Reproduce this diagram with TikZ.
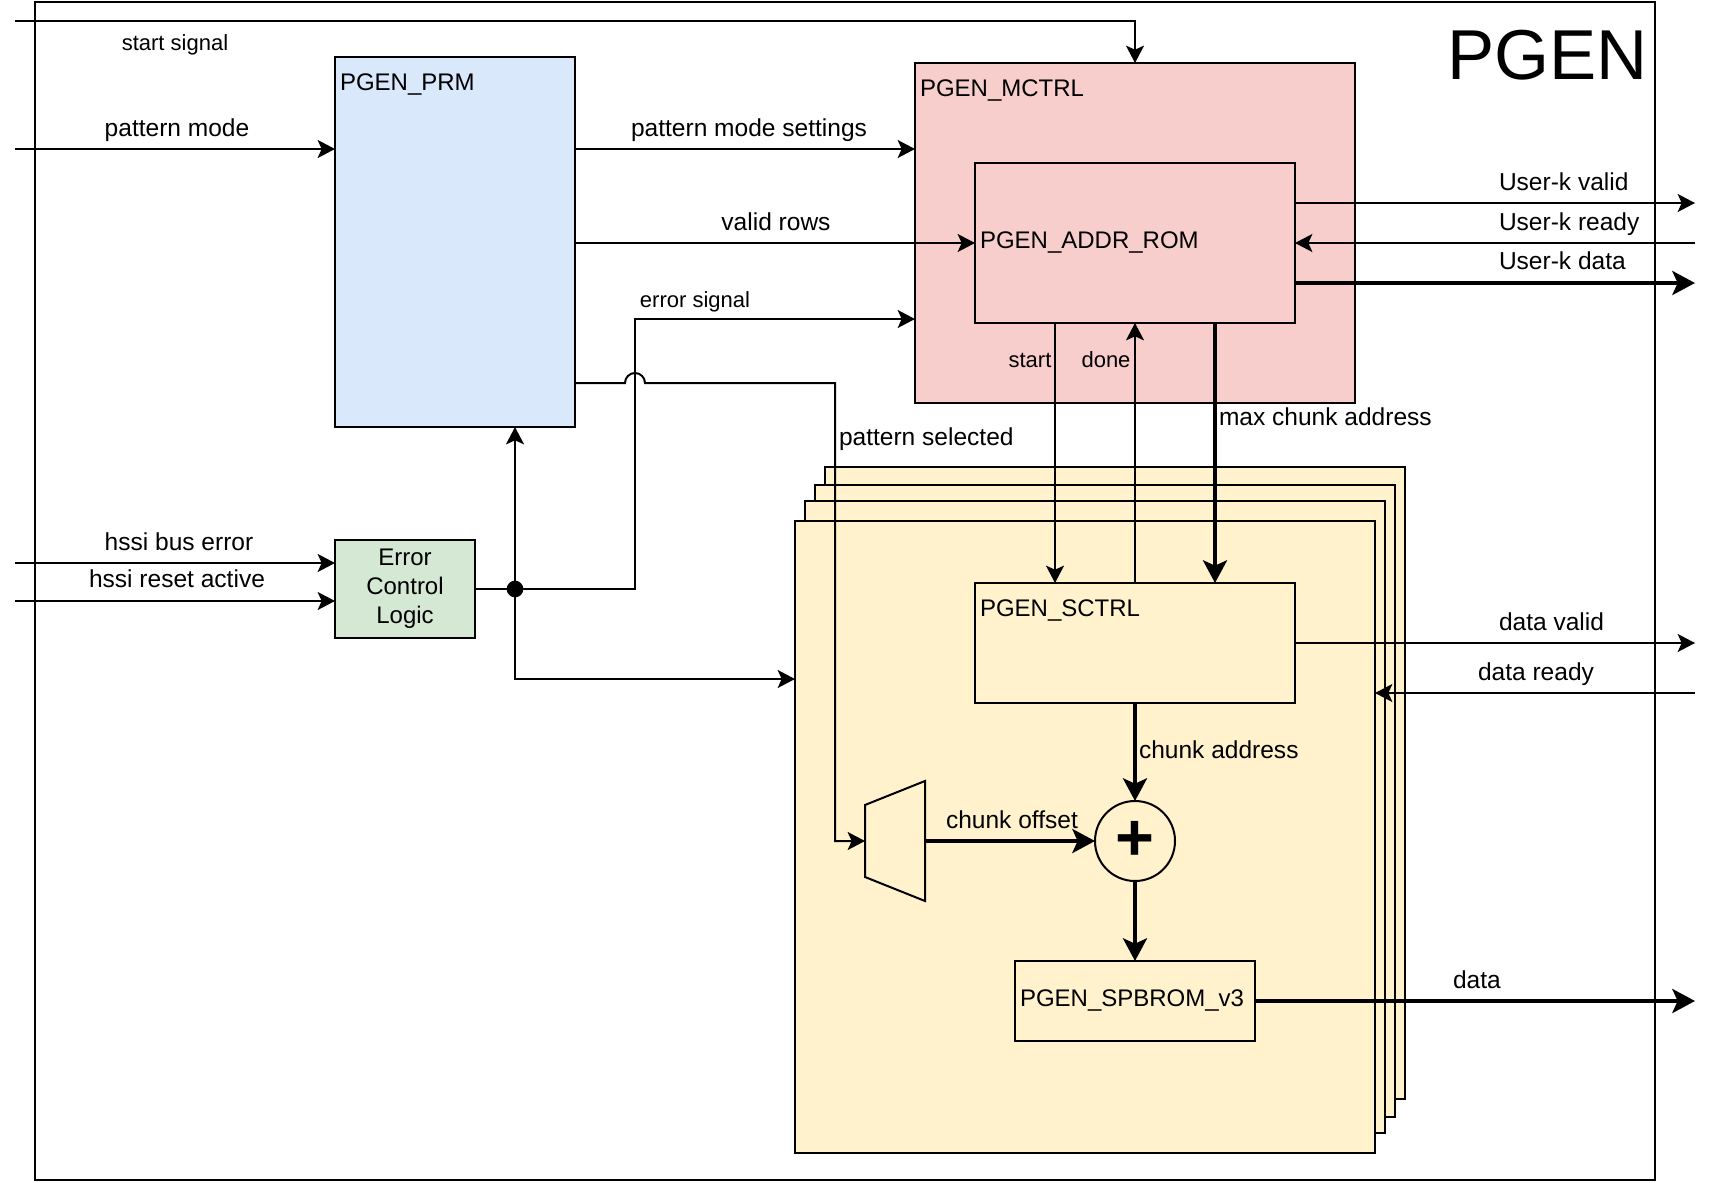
\documentclass[tikz,border=0pt]{standalone}
\usepackage{fontspec}
\setmainfont{Liberation Sans}
\usetikzlibrary{positioning, arrows.meta, shapes.geometric}

\begin{document}
\begin{tikzpicture}[
  x=0.75pt, y=-0.75pt,
  line width=1.5pt,
  box/.style={rectangle, draw, outer sep=0pt, inner sep=0pt, font=\fontsize{18}{21.7}\selectfont, align=center},
  prmbox/.style={box, fill=prmfill, minimum width=180pt, minimum height=277.5pt},
  ctrlbox/.style={box, fill=ctrlfill, minimum width=330pt, minimum height=255pt},
  rombox/.style={box, fill=ctrlfill, minimum width=240pt, minimum height=120pt},
  errbox/.style={box, fill=errfill, minimum width=105pt, minimum height=73.5pt},
  chanbox/.style={box, fill=chanfill, minimum width=435pt, minimum height=474pt},
  sctrlbox/.style={box, fill=chanfill, minimum width=240pt, minimum height=90pt},
  brombox/.style={box, fill=chanfill, minimum width=180pt, minimum height=60pt},
  addbox/.style={circle, draw, fill=chanfill, outer sep=0pt, inner sep=0pt, minimum size=60pt,
                 font=\fontsize{50}{50}\selectfont\bfseries},
  muxshape/.style={draw, fill=chanfill, line join=miter},
  junction/.style={circle, fill=black, outer sep=0pt, inner sep=0pt, minimum size=12.5pt},
  lbl/.style={inner sep=0pt, anchor=base, font=\fontsize{18.4}{22}\selectfont},
  lblw/.style={lbl, anchor=base west},
  blockname/.style={inner sep=0pt, anchor=base west, font=\fontsize{18}{21.7}\selectfont},
  small/.style={font=\fontsize{16.5}{20}\selectfont},
  arr/.style={-{Stealth[length=13pt, width=13.5pt, inset=3pt]}},
  bus/.style={-{Stealth[length=17pt, width=18pt, inset=4pt]}, line width=3pt}
]
  \definecolor{prmfill}{HTML}{DAE8FC}
  \definecolor{ctrlfill}{HTML}{F8CECC}
  \definecolor{errfill}{HTML}{D5E8D4}
  \definecolor{chanfill}{HTML}{FFF2CC}

  \useasboundingbox (0,0) rectangle (1714,1182);

  % outer block
  \node[box, minimum width=1215pt, minimum height=884pt] (pgen) at (845,591) {};
  \node[inner sep=0pt, anchor=base east, font=\fontsize{53}{53}\selectfont] (title) at (1649,79) {PGEN};

  % blocks
  \node[prmbox] (prm) at (455,242) {};
  \node[ctrlbox, below right=4.5pt and 255pt of prm.north east] (mctrl) {};
  \node[rombox, below right=75pt and 45pt of mctrl.north west] (rom) {};
  \node[errbox] (errctl) at (405,589) {Error\\Control\\Logic};

  % channel stack, back to front
  \node[chanbox] (chan4) at (1115,783) {};
  \node[chanbox] (chan3) at (1105,801) {};
  \node[chanbox] (chan2) at (1095,817) {};
  \node[chanbox] (chan1) at (1085,837) {};

  \node[sctrlbox, below=195pt of rom] (sctrl) {};
  \node[addbox, below=73.5pt of sctrl] (adder) {+};
  \node[brombox, below=60pt of adder] (brom) {};

  % mux, wider on its output side
  \coordinate[left=127.5pt of adder] (muxout);
  \coordinate[left=45pt of muxout] (muxin);
  \draw[muxshape] ([yshift=27pt]muxin) -- ([yshift=45pt]muxout)
    -- ([yshift=-45pt]muxout) -- ([yshift=-27pt]muxin) -- cycle;

  \node[junction] (junc) at (515,589) {};

  % free ends and bends
  \coordinate (startin) at (15,21);
  \coordinate (modein) at (15,149);
  \coordinate (buserr) at (15,563);
  \coordinate (rstin) at (15,601);
  \coordinate (kvalid) at (1695,203);
  \coordinate (kready) at (1695,243);
  \coordinate (kdata) at (1695,283);
  \coordinate (dvalid) at (1695,643);
  \coordinate (dready) at (1695,693);
  \coordinate (dout) at (1695,1001);
  \coordinate (errturn) at (635,319);
  \coordinate (feedin) at (795,679);
  \coordinate (seljump) at (635,383);
  \coordinate (selturn) at (835,383);

  % inputs
  \draw[arr] (startin) -| (mctrl.north);
  \draw[arr] (modein) -- (modein -| prm.west);
  \draw[arr] (buserr) -- (buserr -| errctl.west);
  \draw[arr] (rstin) -- (rstin -| errctl.west);

  % prm to mctrl
  \draw[arr] (prm.east |- modein) -- (modein -| mctrl.west);
  \draw[arr] (prm.east |- rom.west) -- (rom.west);

  % error logic fan out
  \draw (errctl.east) -- (junc);
  \draw[arr] (junc) -| (errturn) -- (errturn -| mctrl.west);
  \draw[arr] (junc) -- (junc |- prm.south);
  \draw[arr] (junc) |- (feedin);

  % pattern select hops over the error line
  \draw[arr] (prm.east |- seljump) -- ([xshift=-7.5pt]seljump)
    arc[start angle=180, end angle=0, radius=7.5pt] -- (selturn) |- (muxin);

  % rom and sctrl
  \draw[arr] ([xshift=60pt]rom.south west) -- ([xshift=60pt]sctrl.north west);
  \draw[arr] (sctrl.north) -- (rom.south);
  \draw[bus] ([xshift=180pt]rom.south west) -- ([xshift=180pt]sctrl.north west);

  % outputs of rom
  \draw[arr] (rom.east |- kvalid) -- (kvalid);
  \draw[arr] (kready) -- (rom.east |- kready);
  \draw[bus] (rom.east |- kdata) -- (kdata);

  % data path
  \draw[bus] (sctrl.south) -- (adder.north);
  \draw[bus] (muxout) -- (adder.west);
  \draw[bus] (adder.south) -- (brom.north);
  \draw[arr] (sctrl.east |- dvalid) -- (dvalid);
  \draw[arr] (dready) -- (dready -| chan1.east);
  \draw[bus] (brom.east) -- (dout);

  % block names
  \node[blockname] (prmname) at (339,90) {PGEN\_PRM};
  \node[blockname] (mctrlname) at (919,96) {PGEN\_MCTRL};
  \node[blockname] (romname) at (979,248) {PGEN\_ADDR\_ROM};
  \node[blockname] (sctrlname) at (979,616) {PGEN\_SCTRL};
  \node[blockname] (bromname) at (1019,1006) {PGEN\_SPBROM\_v3};

  % signal names
  \node[lbl, small] (lstart) at (175,50) {start signal};
  \node[lbl] (lmode) at (177,136) {pattern mode};
  \node[lbl] (lsettings) at (749,136) {pattern mode settings};
  \node[lbl] (lrows) at (776,230) {valid rows};
  \node[lbl, small] (lerror) at (695,307) {error signal};
  \node[lbl] (lbus) at (179,550) {hssi bus error};
  \node[lbl] (lrst) at (177,587) {hssi reset active};
  \node[lbl, small] (lgo) at (1030,367) {start};
  \node[lbl, small] (ldone) at (1106,367) {done};
  \node[lblw] (lmax) at (1218,425) {max chunk address};
  \node[lblw] (lsel) at (838,445) {pattern selected};
  \node[lblw] (lkvalid) at (1498,190) {User-k valid};
  \node[lblw] (lkready) at (1498,230) {User-k ready};
  \node[lblw] (lkdata) at (1498,269) {User-k data};
  \node[lblw] (ldvalid) at (1498,630) {data valid};
  \node[lblw] (ldready) at (1477,680) {data ready};
  \node[lblw] (lchunk) at (1138,758) {chunk address};
  \node[lblw] (loffset) at (945,828) {chunk offset};
  \node[lblw] (ldata) at (1452,988) {data};
\end{tikzpicture}
\end{document}
